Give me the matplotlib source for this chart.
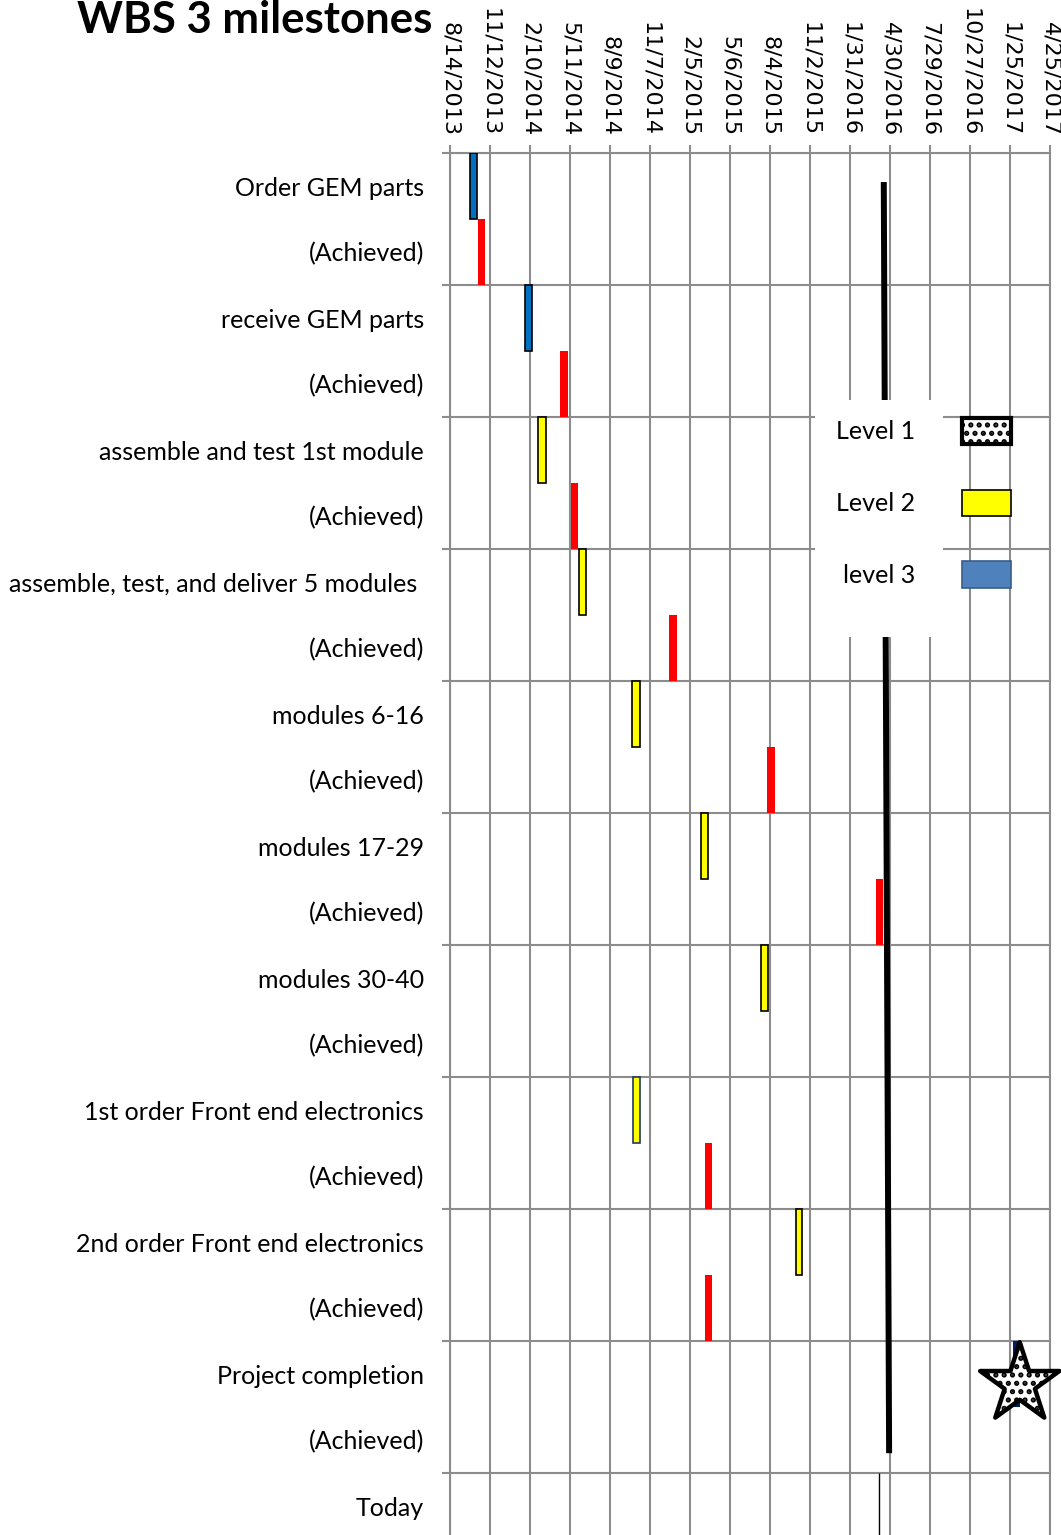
import datetime as dt

import matplotlib

matplotlib.use("Agg")
import matplotlib.pyplot as plt  # noqa: E402
import matplotlib.dates as mdates  # noqa: E402
from matplotlib.patches import Patch, Rectangle  # noqa: E402

# ---- data ------------------------------------------------------------------
ROW_LABELS = [
    "Order GEM parts", "(Achieved)",
    "receive GEM parts", "(Achieved)",
    "assemble and test 1st module", "(Achieved)",
    "assemble, test, and deliver 5 modules ", "(Achieved)",
    "modules 6-16", "(Achieved)",
    "modules 17-29", "(Achieved)",
    "modules 30-40", "(Achieved)",
    "1st order Front end electronics", "(Achieved)",
    "2nd order Front end electronics", "(Achieved)",
    "Project completion", "(Achieved)",
    "Today",
]

TICK_LABELS = [
    "8/14/2013", "11/12/2013", "2/10/2014", "5/11/2014", "8/9/2014",
    "11/7/2014", "2/5/2015", "5/6/2015", "8/4/2015", "11/2/2015",
    "1/31/2016", "4/30/2016", "7/29/2016", "10/27/2016", "1/25/2017",
    "4/25/2017",
]

BAR_ROWS = [0, 1, 2, 3, 4, 5, 6, 7, 8, 9, 10, 11, 12, 14, 15, 16, 17, 18]
BAR_STARTS = [
    "2013-09-28", "2013-10-16", "2014-01-30", "2014-04-18", "2014-02-28",
    "2014-05-13", "2014-05-31", "2014-12-20", "2014-09-28", "2015-07-28",
    "2015-03-02", "2016-03-29", "2015-07-15", "2014-09-30", "2015-03-11",
    "2015-10-01", "2015-03-11", "2017-02-01",
]
BAR_DAYS = [16, 16, 16, 18, 17, 16, 16, 18, 18, 18,
            16, 16, 16, 16, 16, 15, 16, 16]
BAR_KINDS = [
    "level3", "achieved", "level3", "achieved", "level2",
    "achieved", "level2", "achieved", "level2", "achieved",
    "level2", "achieved", "level2", "level2fe", "achieved",
    "level2", "achieved", "level1",
]

STAR_DATE = "2017-02-16"
STAR_ROW = 18.15

TODAY_LINE_DATES = ["2016-04-16", "2016-04-28"]
TODAY_LINE_ROWS = [-0.06, 19.2]
TODAY_MARK_DATE = "2016-04-06"
TODAY_ROW = 20

LEGEND_LABELS = ["Level 1", "Level 2", "level 3"]

STYLES = {
    "level3": dict(color="#0070C0", edgecolor="black", linewidth=1.2),
    "level2": dict(color="#FFFF00", edgecolor="black", linewidth=1.2),
    "level2fe": dict(color="#FFFF00", edgecolor="#1F3864", linewidth=1.2),
    "achieved": dict(color="#FF0000", edgecolor="none", linewidth=0),
    "level1": dict(color="#002060", edgecolor="none", linewidth=0),
}

GRID = "#8c8c8c"
LABEL_FONT = ["Lato", "DejaVu Sans"]


def _num(s):
    return mdates.date2num(dt.datetime.strptime(s, "%Y-%m-%d"))


def _tick_num(s):
    return mdates.date2num(dt.datetime.strptime(s, "%m/%d/%Y"))


plt.rcParams["hatch.linewidth"] = 2.5

W, H = 1061, 1535
fig = plt.figure(figsize=(W / 100, H / 100), dpi=100)
ax = fig.add_axes([450 / W, 1 - 1539 / H, 600 / W, 1386 / H])

# bars
for row, start, days, kind in zip(BAR_ROWS, BAR_STARTS, BAR_DAYS, BAR_KINDS):
    ax.barh(row, days, left=_num(start), height=1.0, zorder=3,
            **STYLES[kind])

# today line (partly hidden behind the legend box)
ax.plot([_num(d) for d in TODAY_LINE_DATES], TODAY_LINE_ROWS,
        color="black", linewidth=4.3, solid_capstyle="butt", zorder=2)
ax.vlines(_num(TODAY_MARK_DATE), TODAY_ROW - 0.5, TODAY_ROW + 0.5,
          color="black", linewidth=1.0, zorder=3)

# completion star
ax.scatter([_num(STAR_DATE)], [STAR_ROW], marker="*", s=3600,
           facecolor="white", edgecolor="black", linewidth=3.2,
           hatch="..", zorder=5, clip_on=False)

# axes
ticks = [_tick_num(t) for t in TICK_LABELS]
ax.set_xlim(ticks[0], ticks[-1])
ax.set_ylim(len(ROW_LABELS) - 0.5, -0.5)
ax.xaxis.tick_top()
ax.set_xticks(ticks)
ax.set_xticklabels(TICK_LABELS, rotation=-90, fontsize=16,
                   family="DejaVu Sans")
ax.set_yticks(range(len(ROW_LABELS)))
ax.set_yticklabels(ROW_LABELS, fontsize=18, family=LABEL_FONT)
ax.set_yticks([r - 0.5 for r in range(0, len(ROW_LABELS), 2)], minor=True)
ax.tick_params(axis="y", which="major", length=0, pad=18.7)
ax.tick_params(axis="y", which="minor", length=6, width=1.5, color=GRID)
ax.tick_params(axis="x", which="major", length=6, width=1.5, color=GRID,
               pad=6)
ax.grid(True, axis="x", which="major", color=GRID, linewidth=1.5, zorder=0)
ax.grid(True, axis="y", which="minor", color=GRID, linewidth=1.5, zorder=0)
ax.set_axisbelow(True)
for side, spine in ax.spines.items():
    spine.set_color(GRID)
    spine.set_linewidth(1.5)
    spine.set_visible(side != "bottom")

# legend: white box behind the text column, handles on the right
ax.add_patch(Rectangle((0.608, 0.651), 0.214, 0.171, transform=ax.transAxes,
                       facecolor="white", edgecolor="none", zorder=4))
handles = [
    Patch(facecolor="white", edgecolor="black", hatch="..", linewidth=3),
    Patch(facecolor="#FFFF00", edgecolor="black", linewidth=1.2),
    Patch(facecolor="#4F81BD", edgecolor="#385D8A", linewidth=1.2),
]
leg = ax.legend(handles, LEGEND_LABELS, loc="upper left",
                bbox_to_anchor=(0.622, 0.818), frameon=False,
                markerfirst=False, prop={"family": LABEL_FONT, "size": 18},
                handlelength=1.96, handleheight=1.24, handletextpad=1.9,
                labelspacing=1.82, borderpad=0)
leg.set_zorder(6)

fig.text(432 / W, 1 - 33 / H, "WBS 3 milestones", ha="right", va="baseline",
         fontsize=31.5, fontweight="bold", family=LABEL_FONT)

fig.savefig("out.png", dpi=100)
